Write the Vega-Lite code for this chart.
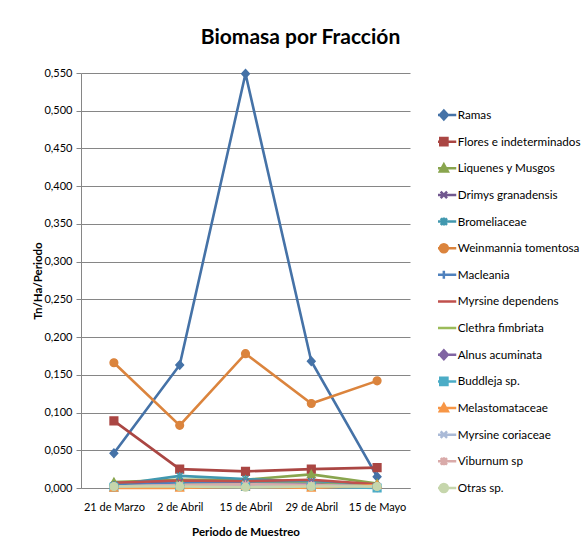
{
  "$schema": "https://vega.github.io/schema/vega-lite/v6.json",
  "autosize": "none",
  "width": 329,
  "height": 415,
  "padding": {"left": 81, "top": 73, "right": 176, "bottom": 64},
  "background": "white",
  "title": {"text": "Biomasa por Fracción", "font": "Lato", "fontSize": 21, "fontWeight": "bold", "color": "#000000", "anchor": "middle", "dx": 55, "offset": 19},
  "data": {"values": [
    {"s": "Ramas", "d": "21 de Marzo", "v": 0.046},
    {"s": "Ramas", "d": "2 de Abril", "v": 0.163},
    {"s": "Ramas", "d": "15 de Abril", "v": 0.549},
    {"s": "Ramas", "d": "29 de Abril", "v": 0.168},
    {"s": "Ramas", "d": "15 de Mayo", "v": 0.015},
    {"s": "Flores e indeterminados", "d": "21 de Marzo", "v": 0.089},
    {"s": "Flores e indeterminados", "d": "2 de Abril", "v": 0.025},
    {"s": "Flores e indeterminados", "d": "15 de Abril", "v": 0.022},
    {"s": "Flores e indeterminados", "d": "29 de Abril", "v": 0.025},
    {"s": "Flores e indeterminados", "d": "15 de Mayo", "v": 0.027},
    {"s": "Liquenes y Musgos", "d": "21 de Marzo", "v": 0.008},
    {"s": "Liquenes y Musgos", "d": "2 de Abril", "v": 0.011},
    {"s": "Liquenes y Musgos", "d": "15 de Abril", "v": 0.011},
    {"s": "Liquenes y Musgos", "d": "29 de Abril", "v": 0.018},
    {"s": "Liquenes y Musgos", "d": "15 de Mayo", "v": 0.006},
    {"s": "Drimys granadensis", "d": "21 de Marzo", "v": 0.004},
    {"s": "Drimys granadensis", "d": "2 de Abril", "v": 0.008},
    {"s": "Drimys granadensis", "d": "15 de Abril", "v": 0.008},
    {"s": "Drimys granadensis", "d": "29 de Abril", "v": 0.009},
    {"s": "Drimys granadensis", "d": "15 de Mayo", "v": 0.003},
    {"s": "Bromeliaceae", "d": "21 de Marzo", "v": 0.004},
    {"s": "Bromeliaceae", "d": "2 de Abril", "v": 0.016},
    {"s": "Bromeliaceae", "d": "15 de Abril", "v": 0.012},
    {"s": "Bromeliaceae", "d": "29 de Abril", "v": 0.008},
    {"s": "Bromeliaceae", "d": "15 de Mayo", "v": 0.002},
    {"s": "Weinmannia tomentosa", "d": "21 de Marzo", "v": 0.166},
    {"s": "Weinmannia tomentosa", "d": "2 de Abril", "v": 0.083},
    {"s": "Weinmannia tomentosa", "d": "15 de Abril", "v": 0.178},
    {"s": "Weinmannia tomentosa", "d": "29 de Abril", "v": 0.112},
    {"s": "Weinmannia tomentosa", "d": "15 de Mayo", "v": 0.142},
    {"s": "Macleania", "d": "21 de Marzo", "v": 0.003},
    {"s": "Macleania", "d": "2 de Abril", "v": 0.007},
    {"s": "Macleania", "d": "15 de Abril", "v": 0.007},
    {"s": "Macleania", "d": "29 de Abril", "v": 0.006},
    {"s": "Macleania", "d": "15 de Mayo", "v": 0.002},
    {"s": "Myrsine dependens", "d": "21 de Marzo", "v": 0.007},
    {"s": "Myrsine dependens", "d": "2 de Abril", "v": 0.010},
    {"s": "Myrsine dependens", "d": "15 de Abril", "v": 0.009},
    {"s": "Myrsine dependens", "d": "29 de Abril", "v": 0.011},
    {"s": "Myrsine dependens", "d": "15 de Mayo", "v": 0.005},
    {"s": "Clethra fimbriata", "d": "21 de Marzo", "v": 0.002},
    {"s": "Clethra fimbriata", "d": "2 de Abril", "v": 0.004},
    {"s": "Clethra fimbriata", "d": "15 de Abril", "v": 0.005},
    {"s": "Clethra fimbriata", "d": "29 de Abril", "v": 0.006},
    {"s": "Clethra fimbriata", "d": "15 de Mayo", "v": 0.002},
    {"s": "Alnus acuminata", "d": "21 de Marzo", "v": 0.002},
    {"s": "Alnus acuminata", "d": "2 de Abril", "v": 0.003},
    {"s": "Alnus acuminata", "d": "15 de Abril", "v": 0.004},
    {"s": "Alnus acuminata", "d": "29 de Abril", "v": 0.005},
    {"s": "Alnus acuminata", "d": "15 de Mayo", "v": 0.001},
    {"s": "Buddleja sp.", "d": "21 de Marzo", "v": 0.001},
    {"s": "Buddleja sp.", "d": "2 de Abril", "v": 0.002},
    {"s": "Buddleja sp.", "d": "15 de Abril", "v": 0.002},
    {"s": "Buddleja sp.", "d": "29 de Abril", "v": 0.002},
    {"s": "Buddleja sp.", "d": "15 de Mayo", "v": 0.0},
    {"s": "Melastomataceae", "d": "21 de Marzo", "v": 0.0},
    {"s": "Melastomataceae", "d": "2 de Abril", "v": 0.0},
    {"s": "Melastomataceae", "d": "15 de Abril", "v": 0.002},
    {"s": "Melastomataceae", "d": "29 de Abril", "v": 0.0},
    {"s": "Melastomataceae", "d": "15 de Mayo", "v": 0.004},
    {"s": "Myrsine coriaceae", "d": "21 de Marzo", "v": 0.002},
    {"s": "Myrsine coriaceae", "d": "2 de Abril", "v": 0.004},
    {"s": "Myrsine coriaceae", "d": "15 de Abril", "v": 0.004},
    {"s": "Myrsine coriaceae", "d": "29 de Abril", "v": 0.004},
    {"s": "Myrsine coriaceae", "d": "15 de Mayo", "v": 0.002},
    {"s": "Viburnum sp", "d": "21 de Marzo", "v": 0.002},
    {"s": "Viburnum sp", "d": "2 de Abril", "v": 0.004},
    {"s": "Viburnum sp", "d": "15 de Abril", "v": 0.005},
    {"s": "Viburnum sp", "d": "29 de Abril", "v": 0.004},
    {"s": "Viburnum sp", "d": "15 de Mayo", "v": 0.002},
    {"s": "Otras sp.", "d": "21 de Marzo", "v": 0.002},
    {"s": "Otras sp.", "d": "2 de Abril", "v": 0.002},
    {"s": "Otras sp.", "d": "15 de Abril", "v": 0.001},
    {"s": "Otras sp.", "d": "29 de Abril", "v": 0.002},
    {"s": "Otras sp.", "d": "15 de Mayo", "v": 0.002}
  ]},
  "encoding": {
    "x": {"field": "d", "type": "ordinal",
      "sort": ["21 de Marzo", "2 de Abril", "15 de Abril", "29 de Abril", "15 de Mayo"],
      "scale": {"padding": 0.5},
      "axis": {"title": "Periodo de Muestreo", "labelAngle": 0, "ticks": false, "grid": false, "labelPadding": 13, "titlePadding": 14}},
    "y": {"field": "v", "type": "quantitative",
      "scale": {"domain": [0, 0.55], "nice": false, "zero": true},
      "axis": {"title": "Tn/Ha/Periodo", "values": [0, 0.05, 0.1, 0.15, 0.2, 0.25, 0.3, 0.35, 0.4, 0.45, 0.5, 0.55], "format": ".3f", "grid": true, "tickSize": 5, "labelPadding": 4, "titlePadding": 0}}
  },
  "resolve": {"legend": {"color": "independent", "shape": "independent", "stroke": "independent"}},
  "layer": [
    {
      "mark": {"type": "line", "strokeWidth": 2.6},
      "encoding": {
        "color": {"field": "s", "type": "nominal",
          "scale": {
            "domain": ["Ramas", "Flores e indeterminados", "Liquenes y Musgos", "Drimys granadensis", "Bromeliaceae", "Weinmannia tomentosa", "Macleania", "Myrsine dependens", "Clethra fimbriata", "Alnus acuminata", "Buddleja sp.", "Melastomataceae", "Myrsine coriaceae", "Viburnum sp", "Otras sp."],
            "range": ["#4572A7", "#AA4643", "#89A54E", "#71588F", "#4198AF", "#DB843D", "#4F81BD", "#C0504D", "#9BBB59", "#8064A2", "#4BACC6", "#F79646", "#AABAD7", "#D9AAA9", "#C6D6AC"]},
          "legend": {
            "title": null, "orient": "none", "legendX": 357, "legendY": 34,
            "padding": 0, "symbolSize": 64, "labelOffset": 8, "rowPadding": 10.64, "clipHeight": 16,
            "labelFont": "Lato", "labelFontSize": 11.7, "labelColor": "#000000", "labelLimit": 200,
            "symbolStrokeWidth": 2.5,
            "encode": {"symbols": {"update": {
              "stroke": {"scale": "color", "field": "value"},
              "fill": {"scale": "color", "field": "value"},
              "fillOpacity": {"value": 1},
              "opacity": {"value": 1},
              "strokeWidth": {"value": 2.5},
              "shape": {"signal": "({'Ramas':'M-3.1,0L3.1,0M0,-1.1L1,0L0,1.1L-1,0Z','Flores e indeterminados':'M-3.1,0L3.1,0M-0.9,-0.9L0.9,-0.9L0.9,0.9L-0.9,0.9Z','Liquenes y Musgos':'M-3.1,0L3.1,0M0,-1L1,0.8L-1,0.8Z','Drimys granadensis':'M-3.1,0L3.1,0M-0.8,-0.8L0.8,0.8M-0.8,0.8L0.8,-0.8','Bromeliaceae':'M-3.1,0L3.1,0M-0.8,-0.8L0.8,0.8M-0.8,0.8L0.8,-0.8M0,-1L0,1','Weinmannia tomentosa':'M-3.1,0L3.1,0M-1,0A1,1,0,1,0,1,0A1,1,0,1,0,-1,0Z','Macleania':'M-3.1,0L3.1,0M0,-1L0,1','Myrsine dependens':'M-3.1,0L3.1,0','Clethra fimbriata':'M-3.1,0L3.1,0','Alnus acuminata':'M-3.1,0L3.1,0M0,-1.1L1,0L0,1.1L-1,0Z','Buddleja sp.':'M-3.1,0L3.1,0M-0.9,-0.9L0.9,-0.9L0.9,0.9L-0.9,0.9Z','Melastomataceae':'M-3.1,0L3.1,0M0,-1L1,0.8L-1,0.8Z','Myrsine coriaceae':'M-3.1,0L3.1,0M-0.8,-0.8L0.8,0.8M-0.8,0.8L0.8,-0.8','Viburnum sp':'M-3.1,0L3.1,0M-0.8,-0.8L0.8,0.8M-0.8,0.8L0.8,-0.8M0,-1L0,1','Otras sp.':'M-3.1,0L3.1,0M-1,0A1,1,0,1,0,1,0A1,1,0,1,0,-1,0Z'})[datum.value]"}
            }}}
          }}
      }
    },
    {
      "mark": {"type": "point", "filled": true, "size": 60, "opacity": 1, "strokeWidth": 1.4},
      "encoding": {
        "color": {"field": "s", "type": "nominal", "legend": null},
        "stroke": {"field": "s", "type": "nominal", "legend": null,
          "scale": {
            "domain": ["Ramas", "Flores e indeterminados", "Liquenes y Musgos", "Drimys granadensis", "Bromeliaceae", "Weinmannia tomentosa", "Macleania", "Myrsine dependens", "Clethra fimbriata", "Alnus acuminata", "Buddleja sp.", "Melastomataceae", "Myrsine coriaceae", "Viburnum sp", "Otras sp."],
            "range": ["#4572A7", "#AA4643", "#89A54E", "#71588F", "#4198AF", "#DB843D", "#4F81BD", "#C0504D", "#9BBB59", "#8064A2", "#4BACC6", "#F79646", "#AABAD7", "#D9AAA9", "#C6D6AC"]}},
        "shape": {"field": "s", "type": "nominal", "legend": null,
          "scale": {
            "domain": ["Ramas", "Flores e indeterminados", "Liquenes y Musgos", "Drimys granadensis", "Bromeliaceae", "Weinmannia tomentosa", "Macleania", "Myrsine dependens", "Clethra fimbriata", "Alnus acuminata", "Buddleja sp.", "Melastomataceae", "Myrsine coriaceae", "Viburnum sp", "Otras sp."],
            "range": ["M0,-1.1L1,0L0,1.1L-1,0Z", "square", "M0,-1L1,0.8L-1,0.8Z", "M-0.8,-0.8L0.8,0.8M-0.8,0.8L0.8,-0.8", "M-0.8,-0.8L0.8,0.8M-0.8,0.8L0.8,-0.8M0,-1L0,1", "circle", "M-1,0L1,0M0,-1L0,1", "M-0.4,0L0.4,0", "M-0.4,0L0.4,0", "M0,-1.1L1,0L0,1.1L-1,0Z", "square", "M0,-1L1,0.8L-1,0.8Z", "M-0.8,-0.8L0.8,0.8M-0.8,0.8L0.8,-0.8", "M-0.8,-0.8L0.8,0.8M-0.8,0.8L0.8,-0.8M0,-1L0,1", "circle"]}}
      }
    }
  ],
  "config": {
    "view": {"stroke": null},
    "font": "Lato",
    "locale": {"number": {"decimal": ",", "thousands": ".", "grouping": [3], "currency": ["", ""]}},
    "axis": {
      "labelFont": "Lato", "labelFontSize": 11, "labelColor": "#000000",
      "titleFont": "Lato", "titleFontSize": 11.5, "titleFontWeight": "bold", "titleColor": "#000000",
      "domainColor": "#868686", "domainWidth": 1, "tickColor": "#868686",
      "gridColor": "#868686", "gridWidth": 1
    }
  }
}
